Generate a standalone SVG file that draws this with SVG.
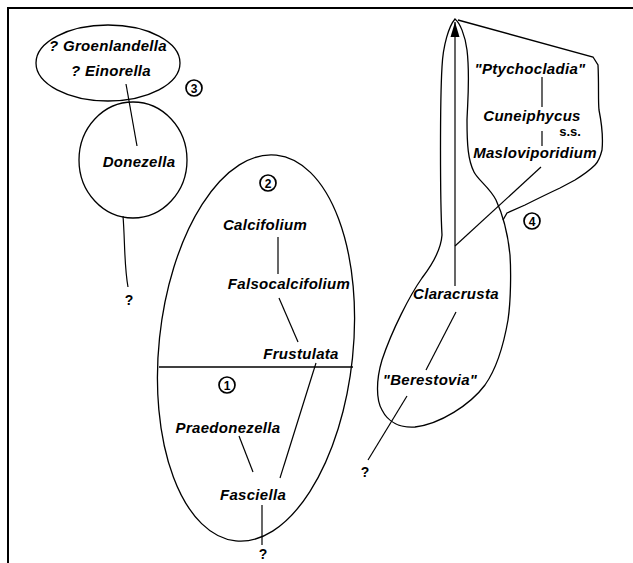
<svg xmlns="http://www.w3.org/2000/svg" width="633" height="563" viewBox="0 0 633 563">
<defs>
<style>
.t{font-family:"Liberation Sans",Arial,sans-serif;font-weight:bold;font-style:italic;font-size:15px;text-anchor:middle;fill:#000;letter-spacing:0.3px}
.q{font-family:"Liberation Sans",Arial,sans-serif;font-weight:bold;font-size:14px;text-anchor:middle;fill:#000}
.n{font-family:"Liberation Sans",Arial,sans-serif;font-weight:bold;font-size:12px;text-anchor:middle;fill:#000}
.o{fill:none;stroke:#000;stroke-width:1.3}
.c{fill:none;stroke:#000;stroke-width:1.7}
.l{fill:none;stroke:#000;stroke-width:1.2}
</style>
<marker id="ah" markerUnits="userSpaceOnUse" markerWidth="16" markerHeight="10" refX="15" refY="5" orient="auto">
<path d="M0,0.5 L15,5 L0,9.5 Z" fill="#000"/>
</marker>
</defs>
<rect width="633" height="563" fill="#fff"/>
<g id="frame">
<line x1="7" y1="8" x2="633" y2="8" stroke="#000" stroke-width="2"/>
<line x1="8" y1="8" x2="8" y2="563" stroke="#000" stroke-width="2"/>
</g>
<g id="group3">
<ellipse class="o" cx="108" cy="63" rx="72" ry="38"/>
<ellipse class="o" cx="133" cy="160" rx="54" ry="58"/>
<circle class="c" cx="194" cy="88" r="8"/>
<text class="n" x="194" y="92.5">3</text>
</g>
<g id="group12">
<ellipse class="o" cx="256" cy="348" rx="97" ry="194" transform="rotate(6 256 348)"/>
<line class="o" x1="159" y1="367" x2="353" y2="367"/>
<circle class="c" cx="268" cy="183" r="8"/>
<text class="n" x="268" y="187.5">2</text>
<circle class="c" cx="227" cy="385" r="8"/>
<text class="n" x="227" y="389.5">1</text>
</g>
<g id="group4">
<path class="o" d="M455,19 C449,26 443,45 442,67 C440,100 440,200 442,235 C441,250 432,265 422,278 C410,295 392,330 382,360 C376,380 376,400 382,410 C388,422 400,428 415,427 C440,424 470,405 485,385 C497,368 504,343 508,320 C511,300 511,270 510,255 C508,235 503,215 496,200 C490,188 478,180 474,172 C468,160 467,145 467,120 C468,95 470,75 467,50 C465,35 460,23 455,19 Z"/>
<path class="o" d="M458,20 L593,57 L598,65 C599,85 598,100 599,110 C602,125 603,140 602,150 C600,158 598,162 595,165 C590,170 583,175 575,180 L560,188 C545,195 535,200 525,205 L507,213 L503,220"/>
<circle class="c" cx="532" cy="221" r="8"/>
<text class="n" x="532" y="225.5">4</text>
</g>
<g id="connectors">
<line class="l" x1="126" y1="84" x2="137" y2="146"/>
<path class="l" d="M123,216 C125,240 124,265 128,287"/>
<line class="l" x1="278" y1="237" x2="278" y2="274"/>
<line class="l" x1="279" y1="298" x2="298" y2="342"/>
<line class="l" x1="316" y1="363" x2="280" y2="478"/>
<line class="l" x1="239" y1="436" x2="253" y2="472"/>
<line class="l" x1="262" y1="505" x2="262" y2="545"/>
<line class="l" x1="542" y1="77" x2="542" y2="107"/>
<line class="l" x1="542" y1="131" x2="542" y2="146"/>
<line class="l" x1="541" y1="167" x2="455" y2="246"/>
<line class="l" x1="455" y1="286" x2="455" y2="22" marker-end="url(#ah)"/>
<line class="l" x1="456" y1="312" x2="426" y2="370"/>
<line class="l" x1="407" y1="396" x2="368" y2="460"/>
</g>
<g id="n-groenlandella"><text class="t" x="108" y="51">? Groenlandella</text></g>
<g id="n-einorella"><text class="t" x="111" y="76">? Einorella</text></g>
<g id="n-donezella"><text class="t" x="139" y="167">Donezella</text></g>
<g id="n-q1"><text class="q" x="129" y="305">?</text></g>
<g id="n-calcifolium"><text class="t" x="265" y="230">Calcifolium</text></g>
<g id="n-falsocalcifolium"><text class="t" x="289" y="289">Falsocalcifolium</text></g>
<g id="n-frustulata"><text class="t" x="301" y="359">Frustulata</text></g>
<g id="n-praedonezella"><text class="t" x="228" y="433">Praedonezella</text></g>
<g id="n-fasciella"><text class="t" x="253" y="500">Fasciella</text></g>
<g id="n-q2"><text class="q" x="263" y="559">?</text></g>
<g id="n-ptychocladia"><text class="t" x="530" y="74">"Ptychocladia"</text></g>
<g id="n-cuneiphycus"><text class="t" x="532" y="121">Cuneiphycus</text><text class="q" x="570" y="136" style="font-size:13px">s.s.</text></g>
<g id="n-masloviporidium"><text class="t" x="535" y="158">Masloviporidium</text></g>
<g id="n-claracrusta"><text class="t" x="456" y="299">Claracrusta</text></g>
<g id="n-berestovia"><text class="t" x="430" y="385">"Berestovia"</text></g>
<g id="n-q3"><text class="q" x="365" y="477">?</text></g>
</svg>
